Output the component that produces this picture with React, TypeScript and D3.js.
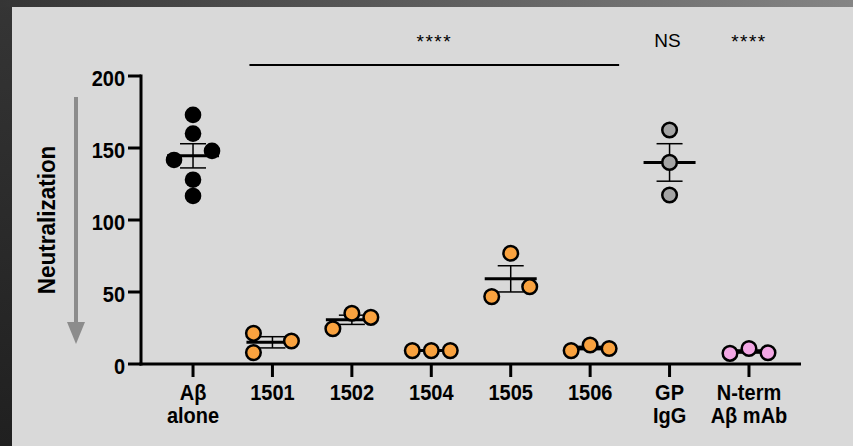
import React, { useEffect } from 'react';
import { scaleLinear, scalePoint, mean, deviation } from 'd3';

// category labels (two lines where the reference wraps)
const categories = [['Aβ', 'alone'], ['1501'], ['1502'], ['1504'], ['1505'], ['1506'], ['GP', 'IgG'], ['N-term', 'Aβ mAb']];

// replicate values
const values = [
  [173, 160, 148, 141.7, 128, 116.7],
  [21.3, 7.9, 16],
  [24.5, 35.2, 32.4],
  [9.3, 9.3, 9.3],
  [76.9, 46.8, 53.7],
  [9.3, 13.2, 10.8],
  [162.5, 140, 117.4],
  [7.4, 10.8, 7.8],
];

// side-by-side column slot of each replicate (as laid out by the original scatter)
const slots = [
  [0, 0, 1, -1, 0, 0],
  [-1, -1, 1],
  [-1, 0, 1],
  [-1, 0, 1],
  [0, -1, 1],
  [-1, 0, 1],
  [0, 0, 0],
  [-1, 0, 1],
];

const fills = ['#000000', '#F9A23F', '#F9A23F', '#F9A23F', '#F9A23F', '#F9A23F', '#A4A4A4', '#F2A7E4'];

const yTicks = [0, 50, 100, 150, 200];

const W = 853;
const H = 446;
const FONT = "'Liberation Sans', Arial, Helvetica, sans-serif";

export default function App() {
  useEffect(() => {
    document.body.style.margin = '0';
  }, []);

  const x = scalePoint<number>()
    .domain(categories.map((_, i) => i))
    .range([141, 801])
    .padding(0.655);

  const y = scaleLinear().domain([0, 200]).range([364, 76]);

  const step = 19;
  const barL = (x(1) as number) - 23;
  const barR = (x(5) as number) + 29;

  return (
    <svg width={W} height={H} style={{ display: 'block' }} fontFamily={FONT}>
      <defs>
        <linearGradient id="topBand" x1="0" x2="1" y1="0" y2="0">
          <stop offset="0" stopColor="#353535" />
          <stop offset="1" stopColor="#858585" />
        </linearGradient>
        <linearGradient id="leftBand" x1="0" x2="0" y1="0" y2="1">
          <stop offset="0" stopColor="#353535" />
          <stop offset="1" stopColor="#202020" />
        </linearGradient>
      </defs>
      <rect x={0} y={0} width={W} height={H} fill="url(#leftBand)" />
      <rect x={0} y={0} width={W} height={7} fill="url(#topBand)" />
      <rect x={12} y={7} width={W - 12} height={H - 7} fill="#D9D9D9" />

      {/* y axis title with arrow */}
      <line x1={76} y1={97} x2={76} y2={323} stroke="#8C8C8C" strokeWidth={4} />
      <polygon points="67,322 85,322 76,344" fill="#8C8C8C" />
      <text
        transform={`translate(55,220) rotate(-90) scale(1,1.08)`}
        textAnchor="middle"
        fontSize={22.5}
        fontWeight="bold"
        fill="#000"
      >
        Neutralization
      </text>

      {/* y axis */}
      <line x1={141} x2={141} y1={y(200) - 1.5} y2={y(0) + 1.5} stroke="#000" strokeWidth={3} />
      {yTicks.map((t) => (
        <g key={t}>
          <line x1={128} x2={141} y1={y(t)} y2={y(t)} stroke="#000" strokeWidth={3} />
          <text
            transform={`translate(125,${y(t) + 9.5}) scale(1,1.08)`}
            textAnchor="end"
            fontSize={20}
            fontWeight="bold"
          >
            {t}
          </text>
        </g>
      ))}

      {/* x axis */}
      <line x1={139.5} x2={801} y1={y(0)} y2={y(0)} stroke="#000" strokeWidth={3} />
      {categories.map((lines, i) => (
        <g key={i}>
          <line x1={x(i)} x2={x(i)} y1={y(0)} y2={y(0) + 13} stroke="#000" strokeWidth={3} />
          {lines.map((l, j) => (
            <text
              key={j}
              transform={`translate(${x(i)},${400 + j * 22.5}) scale(1,1.08)`}
              textAnchor="middle"
              fontSize={20}
              fontWeight="bold"
            >
              {l}
            </text>
          ))}
        </g>
      ))}

      {/* mean ± SEM */}
      {values.map((vals, i) => {
        const m = mean(vals) as number;
        const sem = (deviation(vals) as number) / Math.sqrt(vals.length);
        const cx = x(i) as number;
        return (
          <g key={i} stroke="#000">
            <line x1={cx} x2={cx} y1={y(m + sem)} y2={y(m - sem)} strokeWidth={1.5} />
            <line x1={cx - 13} x2={cx + 13} y1={y(m + sem)} y2={y(m + sem)} strokeWidth={1.5} />
            <line x1={cx - 13} x2={cx + 13} y1={y(m - sem)} y2={y(m - sem)} strokeWidth={1.5} />
            <line x1={cx - 26} x2={cx + 26} y1={y(m)} y2={y(m)} strokeWidth={3} />
          </g>
        );
      })}

      {/* replicate points */}
      {values.map((vals, i) =>
        vals.map((v, j) => (
          <circle
            key={`${i}-${j}`}
            cx={(x(i) as number) + slots[i][j] * step}
            cy={y(v)}
            r={i === 0 ? 8.3 : 7.3}
            fill={fills[i]}
            stroke="#000"
            strokeWidth={i === 0 ? 0 : 2.5}
          />
        ))
      )}

      {/* significance annotations */}
      <line x1={barL} x2={barR} y1={65} y2={65} stroke="#000" strokeWidth={2} />
      <text x={(barL + barR) / 2} y={48} textAnchor="middle" fontSize={19} letterSpacing={1.5}>
        ****
      </text>
      <text x={(x(6) as number) - 2} y={47} textAnchor="middle" fontSize={19}>
        NS
      </text>
      <text x={x(7)} y={48} textAnchor="middle" fontSize={19} letterSpacing={1.5}>
        ****
      </text>
    </svg>
  );
}
